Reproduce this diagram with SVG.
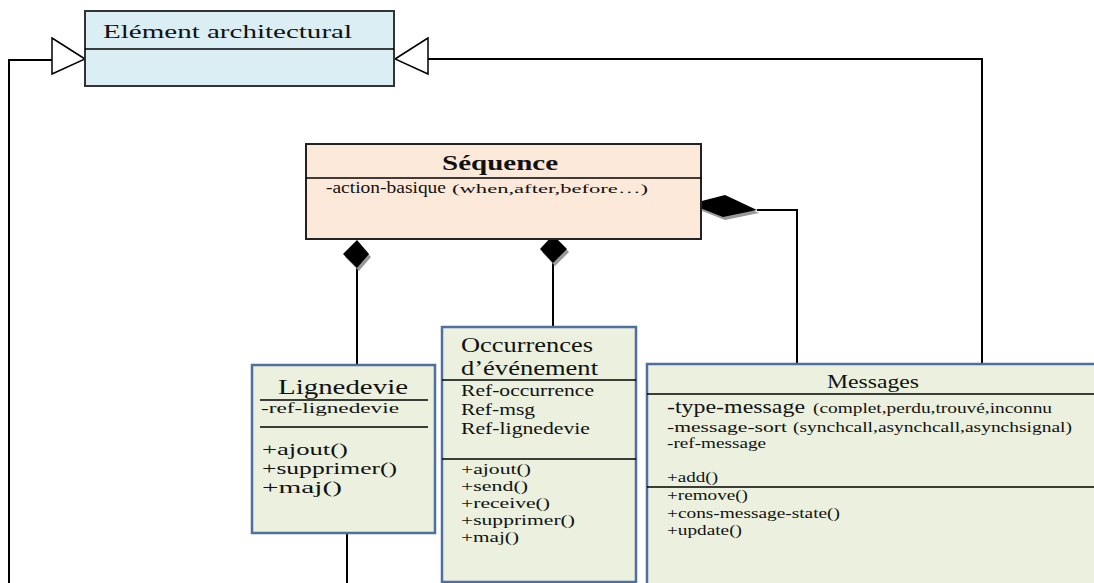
<svg xmlns="http://www.w3.org/2000/svg" width="1094" height="583" viewBox="0 0 1094 583">
  <style>
    text { font-family: "Liberation Serif", "Times New Roman", serif; fill: #111; }
    .line { stroke: #000; stroke-width: 2; fill: none; }
    .tri { fill: #fff; stroke: #000; stroke-width: 1.5; }
    .dia { fill: #000; }
    .shadow { fill: #999; }
    .green { fill: #ebf1de; stroke: #4f6fa0; stroke-width: 2.5; }
    .div { stroke: #000; stroke-width: 1.5; }
  </style>

  <!-- connectors -->
  <g id="connectors">
    <!-- generalisation from the left -->
    <polyline class="line" points="9,583 9,60 52,60"/>
    <polygon class="tri" points="52,38 85,59 52,74"/>
    <!-- generalisation from Messages -->
    <polyline class="line" points="982,364 982,59 428,59"/>
    <polygon class="tri" points="428,38 395,59 428,74"/>
    <!-- compositions -->
    <line class="line" x1="357" y1="268" x2="357" y2="365"/>
    <polygon class="shadow" points="359,243 371,257 359,271 345,257"/>
    <polygon class="dia" points="357,240 369,254 357,268 343,254"/>
    <line class="line" x1="553" y1="263" x2="553" y2="327"/>
    <polygon class="shadow" points="555,238 569,252 555,266 542,252"/>
    <polygon class="dia" points="553,235 567,249 553,263 540,249"/>
    <polyline class="line" points="757,210 797,210 797,364"/>
    <polygon class="shadow" points="692,207 727,198 759,213 725,220"/>
    <polygon class="dia" points="690,204 725,195 757,210 723,217"/>
    <!-- below Lignedevie -->
    <line class="line" x1="347" y1="533" x2="347" y2="583"/>
  </g>

  <!-- Elément architectural -->
  <g id="element-architectural">
    <rect x="85" y="11" width="309" height="75" fill="#dbeef3" stroke="#333" stroke-width="2"/>
    <line class="div" x1="85" y1="49" x2="394" y2="49"/>
    <text x="103" y="38" font-size="19" textLength="249" lengthAdjust="spacingAndGlyphs">Elément architectural</text>
  </g>

  <!-- Séquence -->
  <g id="sequence">
    <rect x="306" y="144" width="395" height="95" fill="#fde9d9" stroke="#222" stroke-width="2"/>
    <line class="div" x1="306" y1="178" x2="701" y2="178"/>
    <text x="442" y="170" font-size="21" font-weight="bold" textLength="116" lengthAdjust="spacingAndGlyphs">Séquence</text>
    <text x="326" y="193" font-size="16.5" textLength="120" lengthAdjust="spacingAndGlyphs">-action-basique</text>
    <text x="452" y="193" font-size="13" textLength="196" lengthAdjust="spacingAndGlyphs">(when,after,before…)</text>
  </g>

  <!-- Lignedevie -->
  <g id="lignedevie">
    <rect class="green" x="252" y="365" width="183" height="168"/>
    <text x="278" y="394" font-size="22" textLength="130" lengthAdjust="spacingAndGlyphs">Lignedevie</text>
    <line class="div" x1="260" y1="400" x2="428" y2="400"/>
    <text x="261" y="413" font-size="14" textLength="138" lengthAdjust="spacingAndGlyphs">-ref-lignedevie</text>
    <line class="div" x1="260" y1="427" x2="428" y2="427"/>
    <text x="262" y="455" font-size="16.5" textLength="86" lengthAdjust="spacingAndGlyphs">+ajout()</text>
    <text x="262" y="474" font-size="16.5" textLength="135" lengthAdjust="spacingAndGlyphs">+supprimer()</text>
    <text x="262" y="493" font-size="16.5" textLength="80" lengthAdjust="spacingAndGlyphs">+maj()</text>
  </g>

  <!-- Occurrences d'événement -->
  <g id="occurrences">
    <rect class="green" x="442" y="327" width="194" height="255"/>
    <text x="461" y="352" font-size="20" textLength="132" lengthAdjust="spacingAndGlyphs">Occurrences</text>
    <text x="461" y="375" font-size="20" textLength="137" lengthAdjust="spacingAndGlyphs">d’événement</text>
    <line class="div" x1="442" y1="380" x2="636" y2="380"/>
    <text x="461" y="396" font-size="16" textLength="133" lengthAdjust="spacingAndGlyphs">Ref-occurrence</text>
    <text x="461" y="415" font-size="16" textLength="74" lengthAdjust="spacingAndGlyphs">Ref-msg</text>
    <text x="461" y="434" font-size="16" textLength="129" lengthAdjust="spacingAndGlyphs">Ref-lignedevie</text>
    <line class="div" x1="442" y1="459" x2="636" y2="459"/>
    <text x="461" y="474" font-size="15" textLength="70" lengthAdjust="spacingAndGlyphs">+ajout()</text>
    <text x="461" y="491" font-size="15" textLength="67" lengthAdjust="spacingAndGlyphs">+send()</text>
    <text x="461" y="508" font-size="15" textLength="89" lengthAdjust="spacingAndGlyphs">+receive()</text>
    <text x="461" y="525" font-size="15" textLength="114" lengthAdjust="spacingAndGlyphs">+supprimer()</text>
    <text x="461" y="542" font-size="15" textLength="58" lengthAdjust="spacingAndGlyphs">+maj()</text>
  </g>

  <!-- Messages -->
  <g id="messages">
    <rect class="green" x="647" y="364" width="460" height="240"/>
    <text x="827" y="388" font-size="18" textLength="92" lengthAdjust="spacingAndGlyphs">Messages</text>
    <line class="div" x1="647" y1="394" x2="1094" y2="394"/>
    <text x="667" y="413" font-size="18" textLength="138" lengthAdjust="spacingAndGlyphs">-type-message</text>
    <text x="813" y="413" font-size="14" textLength="239" lengthAdjust="spacingAndGlyphs">(complet,perdu,trouvé,inconnu</text>
    <text x="667" y="432" font-size="15.5" textLength="120" lengthAdjust="spacingAndGlyphs">-message-sort</text>
    <text x="793" y="432" font-size="14" textLength="279" lengthAdjust="spacingAndGlyphs">(synchcall,asynchcall,asynchsignal)</text>
    <text x="667" y="448" font-size="14" textLength="99" lengthAdjust="spacingAndGlyphs">-ref-message</text>
    <text x="667" y="482" font-size="14" textLength="51" lengthAdjust="spacingAndGlyphs">+add()</text>
    <line class="div" x1="647" y1="487" x2="1094" y2="487"/>
    <text x="667" y="500" font-size="14" textLength="81" lengthAdjust="spacingAndGlyphs">+remove()</text>
    <text x="667" y="518" font-size="14" textLength="173" lengthAdjust="spacingAndGlyphs">+cons-message-state()</text>
    <text x="667" y="535" font-size="14" textLength="75" lengthAdjust="spacingAndGlyphs">+update()</text>
  </g>
</svg>
